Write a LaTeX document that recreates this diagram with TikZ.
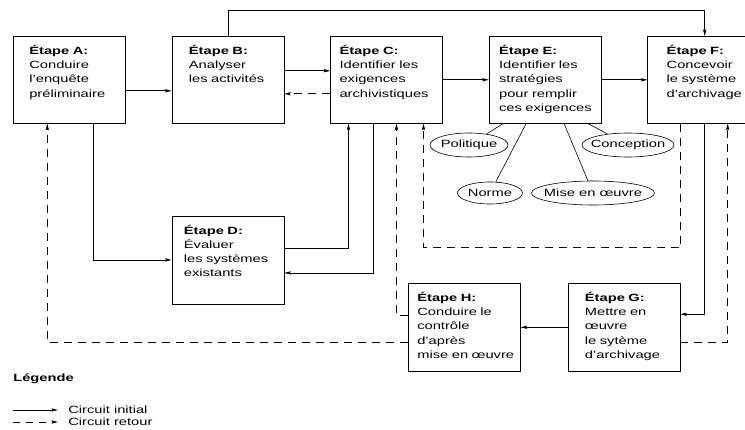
\documentclass[tikz,border=0pt]{standalone}
\usepackage{fontspec}
\setmainfont{Liberation Sans}[FakeStretch=1.4]
\usepackage{tikz}
\usetikzlibrary{arrows.meta,positioning,shapes.geometric}

\begin{document}
\begin{tikzpicture}[x=1pt,y=-1pt,semithick,>={Stealth[length=6.5pt,width=3.2pt,inset=1pt]},
                    node distance=46pt,font=\fontsize{10.5}{14.2}\selectfont]
  \tikzstyle{etape}=[draw,rectangle,minimum width=112pt,minimum height=87pt,anchor=north west,inner sep=0pt]
  \tikzstyle{texte}=[anchor=base west,text width=102pt,align=left,inner sep=0pt]
  \tikzstyle{theme}=[draw,ellipse,inner sep=0pt,minimum height=24pt]
  \tikzstyle{retour}=[->,dash pattern=on 8pt off 6pt]

  \useasboundingbox (0,0) rectangle (745,430);

  \node[etape] (A) at (13,36) {};
  \node[etape] (B) [right=of A] {};
  \node[etape] (C) [right=of B] {};
  \node[etape] (E) [right=of C] {};
  \node[etape,minimum width=98pt] (F) [right=of E] {};
  \node[etape,minimum height=88pt] (D) [below=92pt of B] {};
  \node[etape,minimum height=88pt] (H) at (408,283) {};
  \node[etape,minimum height=88pt] (G) [right=47pt of H] {};

  \node[texte] (At) at ([xshift=16pt,yshift=-18.5pt]A.north west) {\textbf{Étape A:}\\Conduire\\l'enquête\\préliminaire};
  \node[texte] (Bt) at ([xshift=17pt,yshift=-18.5pt]B.north west) {\textbf{Étape B:}\\Analyser\\les activités};
  \node[texte] (Ct) at ([xshift=9pt,yshift=-18.5pt]C.north west) {\textbf{Étape C:}\\Identifier les\\exigences\\archivistiques};
  \node[texte] (Et) at ([xshift=10pt,yshift=-18.5pt]E.north west) {\textbf{Étape E:}\\Identifier les\\stratégies\\pour remplir\\ces exigences};
  \node[texte] (Ft) at ([xshift=19pt,yshift=-18.5pt]F.north west) {\textbf{Étape F:}\\Concevoir\\le système\\d'archivage};
  \node[texte] (Dt) at ([xshift=12pt,yshift=-18.5pt]D.north west) {\textbf{Étape D:}\\Évaluer\\les systèmes\\existants};
  \node[texte] (Ht) at ([xshift=9pt,yshift=-18.5pt]H.north west) {\textbf{Étape H:}\\Conduire le\\contrôle\\d'après\\mise en œuvre};
  \node[texte] (Gt) at ([xshift=17pt,yshift=-18.5pt]G.north west) {\textbf{Étape G:}\\Mettre en\\œuvre\\le sytème\\d'archivage};

  % strategies
  \node[theme,minimum width=78pt] (pol) at (469,145) {\makebox[0pt]{Politique}};
  \node[theme,minimum width=92pt] (con) at (628,145) {\makebox[0pt]{Conception}};
  \node[theme,minimum width=65pt,minimum height=22pt] (nor) at (490,193) {\makebox[0pt]{Norme}};
  \node[theme,minimum width=123pt] (mis) at (593,193) {\makebox[0pt]{Mise en œuvre}};

  \draw ([xshift=-42pt]E.south) -- (pol);
  \draw ([xshift=-19pt]E.south) -- (nor);
  \draw ([xshift=19pt]E.south) -- (mis);
  \draw ([xshift=43pt]E.south) -- (con);

  % circuit initial
  \draw[->] ([yshift=-11pt]A.east) -- ([yshift=-11pt]B.west);
  \draw[->] ([yshift=9pt]B.east) -- ([yshift=9pt]C.west);
  \draw[->] (C.east) -- (E.west);
  \draw[->] (E.east) -- (F.west);
  \draw[->] (B.north) -- ++(0,-26) -| ([xshift=8pt]F.north);
  \draw[->] ([xshift=24pt]A.south) |- (D.west);
  \draw[->] ([yshift=12pt]D.east) -| ([xshift=-38pt]C.south);
  \draw[->] ([xshift=-13pt]C.south) |- ([yshift=-13pt]D.east);
  \draw[->] ([xshift=8pt]F.south) |- ([yshift=13pt]G.east);
  \draw[->] (G.west) -- (H.east);

  % circuit retour
  \draw[retour] ([yshift=-14pt]C.west) -- ([yshift=-14pt]B.east);
  \draw[retour] ([xshift=-16pt]F.south) -- ++(0,124) -| ([xshift=37pt]C.south);
  \draw[retour] ([yshift=12pt]H.west) -| ([xshift=10pt]C.south);
  \draw[retour] ([yshift=-15pt]H.west) -| ([xshift=-22pt]A.south);
  \draw[retour] ([yshift=-15pt]G.east) -| ([xshift=31pt]F.south);

  % legende
  \node[anchor=base west,inner sep=0pt] (leg) at (13,382) {\textbf{Légende}};
  \coordinate (l1) at (13,410);
  \coordinate (l2) at (13,422);
  \node[anchor=west,inner xsep=10pt,inner ysep=0pt] (ini) at (58,410) {Circuit initial};
  \node[anchor=west,inner xsep=10pt,inner ysep=0pt] (ret) at (58,422) {Circuit retour};
  \draw[->] (l1) -- (ini.west);
  \draw[retour,dash pattern=on 7pt off 6pt] (l2) -- (ret.west);
\end{tikzpicture}
\end{document}
